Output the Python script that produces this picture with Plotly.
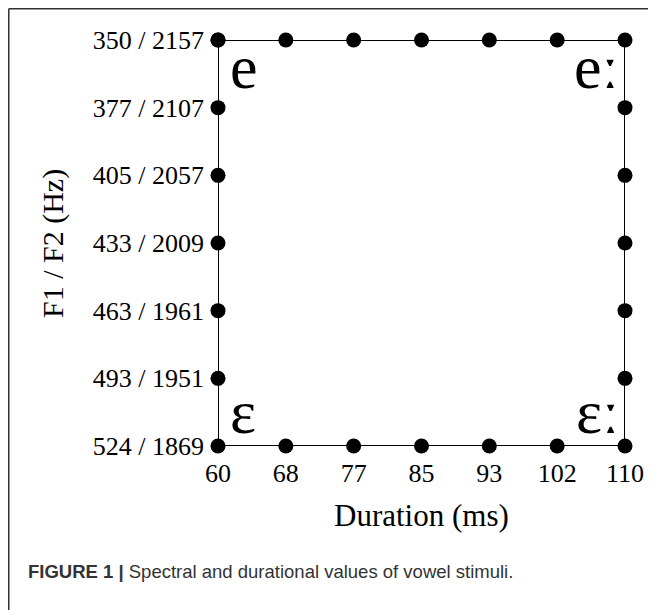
import plotly.graph_objects as go

# ---- data ----
durations = ["60", "68", "77", "85", "93", "102", "110"]          # ms
formants = ["350 / 2157", "377 / 2107", "405 / 2057", "433 / 2009",
            "463 / 1961", "493 / 1951", "524 / 1869"]            # F1/F2 (Hz), top to bottom
vowel_labels = {"short_close": "e", "long_close": "eː",
                "short_open": "ɛ", "long_open": "ɛː"}
x_title = "Duration (ms)"
y_title = "F1 / F2 (Hz)"
caption_bold = "FIGURE 1 |"
caption_text = " Spectral and durational values of vowel stimuli."

# ---- stimulus grid perimeter (continuum endpoints) ----
top, bottom = formants[0], formants[-1]
left, right = durations[0], durations[-1]
xs = list(durations) + [right] * (len(formants) - 1) + list(reversed(durations))[1:] + [left] * (len(formants) - 1)
ys = [top] * len(durations) + list(formants[1:]) + [bottom] * (len(durations) - 1) + list(reversed(formants))[1:]

# page body has an 8px default margin
OFF = 8
W, H = 656 - OFF, 610 - OFF
L, T = 218 - OFF, 40 - OFF
R = W - (625 - OFF)
B = H - (446 - OFF)
pw, ph = W - L - R, H - T - B

def px(x):  # reference-screen x -> paper
    return (x - OFF - L) / pw

def py(y):  # reference-screen y -> paper
    return (H - B - (y - OFF)) / ph

SERIF = "Liberation Serif, Times New Roman, serif"
SANS = "Liberation Sans, Arial, sans-serif"

fig = go.Figure()
fig.add_trace(go.Scatter(
    x=xs, y=ys, mode="lines+markers",
    line=dict(color="black", width=2),
    marker=dict(color="black", size=15),
    cliponaxis=False, hoverinfo="skip", showlegend=False,
))

fig.update_layout(
    width=W, height=H,
    margin=dict(l=L, r=R, t=T, b=B),
    paper_bgcolor="white", plot_bgcolor="white",
    xaxis=dict(type="category", categoryorder="array", categoryarray=durations,
               range=[0, len(durations) - 1], showgrid=False, zeroline=False,
               showline=False, ticks="", ticklabelstandoff=9,
               tickfont=dict(family=SERIF, size=26, color="black")),
    yaxis=dict(type="category", categoryorder="array", categoryarray=list(reversed(formants)),
               range=[0, len(formants) - 1], showgrid=False, zeroline=False,
               showline=False, ticks="", ticklabelstandoff=13,
               tickfont=dict(family=SERIF, size=26, color="black")),
    font=dict(family=SERIF, color="black"),
)

ix_left, ix_right = durations.index(left), durations.index(right)
vfont = dict(family=SERIF, size=62, color="black")
annos = [
    dict(x=ix_left, y=top, xref="x", yref="y", text=vowel_labels["short_close"],
         xanchor="left", yanchor="middle", xshift=10, yshift=-27, font=vfont),
    dict(x=ix_right, y=top, xref="x", yref="y", text=vowel_labels["long_close"],
         xanchor="right", yanchor="middle", xshift=-4, yshift=-27, font=vfont),
    dict(x=ix_left, y=bottom, xref="x", yref="y", text=vowel_labels["short_open"],
         xanchor="left", yanchor="middle", xshift=10, yshift=34, font=vfont),
    dict(x=ix_right, y=bottom, xref="x", yref="y", text=vowel_labels["long_open"],
         xanchor="right", yanchor="middle", xshift=-4, yshift=34, font=vfont),
    dict(x=px(421), y=py(515), xref="paper", yref="paper", text=x_title,
         xanchor="center", yanchor="middle",
         font=dict(family=SERIF, size=31, color="black")),
    dict(x=px(53), y=py(244), xref="paper", yref="paper", text=y_title, textangle=-90,
         xanchor="center", yanchor="middle",
         font=dict(family=SERIF, size=30, color="black")),
    dict(x=px(26), y=py(571), xref="paper", yref="paper",
         text="<b>" + caption_bold + "</b>" + caption_text,
         xanchor="left", yanchor="middle",
         font=dict(family=SANS, size=18.5, color="#333333")),
]
for a in annos:
    a["showarrow"] = False
fig.update_layout(annotations=annos)

fig.update_layout(shapes=[
    dict(type="line", xref="paper", yref="paper", x0=px(8.75), x1=px(W + 20), y0=py(8.75), y1=py(8.75),
         line=dict(color="#333333", width=1.5)),
    dict(type="line", xref="paper", yref="paper", x0=px(8.75), x1=px(8.75), y0=py(8.75), y1=py(H + 20),
         line=dict(color="#333333", width=1.5)),
])

fig.write_html("out.html")
